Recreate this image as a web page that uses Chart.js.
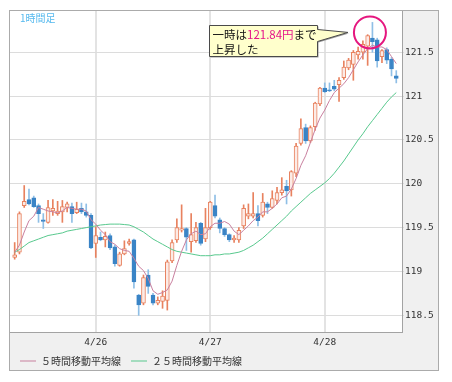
<!DOCTYPE html>
<html><head><meta charset="utf-8">
<script src="https://cdn.jsdelivr.net/npm/chart.js@4"></script>
<style>html,body{margin:0;padding:0;background:#fff}canvas{display:block}</style>
</head><body>
<canvas id="c" width="452" height="382"></canvas>
<script>
// ---- data (USD/JPY 1-hour candles) ----
const opens = [119.16,119.22,119.75,119.82,119.84,119.75,119.59,119.56,119.69,119.66,
  119.68,119.73,119.74,119.67,119.72,119.68,119.64,119.32,119.39,119.36,
  119.41,119.28,119.07,119.20,119.32,119.36,118.73,118.64,118.96,118.73,
  118.64,118.66,118.67,119.12,119.36,119.47,119.49,119.34,119.35,119.55,
  119.37,119.50,119.75,119.59,119.49,119.42,119.36,119.36,119.52,119.63,
  119.63,119.66,119.64,119.77,119.73,119.81,119.90,119.97,119.93,120.12,
  120.46,120.64,120.49,120.65,120.91,121.09,121.07,121.11,121.13,121.21,
  121.32,121.36,121.47,121.50,121.57,121.66,121.64,121.45,121.53,121.42,
  121.23];
const highs = [119.33,119.68,119.98,119.94,119.86,119.77,119.66,119.81,119.82,119.80,
  119.81,119.79,119.78,119.79,119.78,119.77,119.66,119.51,119.45,119.45,
  119.43,119.30,119.22,119.35,119.37,119.37,118.74,118.96,119.02,118.75,
  118.71,118.78,119.13,119.36,119.60,119.76,119.50,119.66,119.56,119.56,
  119.72,119.80,119.87,119.61,119.50,119.43,119.41,119.50,119.76,119.77,
  119.90,119.75,119.89,119.79,119.92,119.96,120.07,120.04,120.15,120.46,
  120.74,120.68,120.66,120.93,121.10,121.15,121.15,121.18,121.21,121.40,
  121.43,121.52,121.56,121.63,121.70,121.84,121.66,121.53,121.55,121.44,
  121.29];
const lows = [119.14,119.20,119.73,119.76,119.73,119.56,119.49,119.55,119.64,119.64,
  119.56,119.68,119.56,119.66,119.66,119.62,119.26,119.16,119.35,119.28,
  119.25,119.06,119.06,119.19,119.30,118.81,118.50,118.62,118.75,118.62,
  118.62,118.58,118.56,119.10,119.33,119.45,119.24,119.22,119.33,119.30,
  119.34,119.48,119.61,119.44,119.40,119.34,119.33,119.33,119.49,119.60,
  119.61,119.52,119.62,119.66,119.72,119.77,119.87,119.77,119.86,120.08,
  120.44,120.46,120.47,120.61,120.89,121.04,121.05,121.06,120.94,121.19,
  121.30,121.18,121.42,121.42,121.35,121.50,121.33,121.38,121.37,121.23,
  121.15];
const closes = [119.19,119.66,119.80,119.77,119.74,119.66,119.57,119.73,119.72,119.69,
  119.74,119.77,119.66,119.71,119.68,119.64,119.27,119.41,119.36,119.40,
  119.27,119.09,119.20,119.26,119.34,118.88,118.62,118.93,118.83,118.64,
  118.67,118.72,119.11,119.33,119.50,119.49,119.39,119.42,119.50,119.32,
  119.50,119.79,119.63,119.49,119.42,119.36,119.38,119.47,119.72,119.66,
  119.66,119.58,119.79,119.73,119.83,119.90,119.93,119.92,120.14,120.43,
  120.63,120.49,120.64,120.92,121.09,121.05,121.06,121.08,121.18,121.33,
  121.41,121.50,121.51,121.59,121.69,121.62,121.40,121.52,121.41,121.31,
  121.20];
const ma5 = [119.22,119.30,119.45,119.58,119.63,119.73,119.71,119.69,119.68,119.67,
  119.69,119.73,119.72,119.71,119.71,119.69,119.59,119.54,119.47,119.42,
  119.34,119.31,119.26,119.24,119.23,119.15,119.06,119.01,118.92,118.78,
  118.74,118.76,118.79,118.89,119.07,119.23,119.36,119.43,119.46,119.42,
  119.43,119.51,119.55,119.55,119.57,119.54,119.46,119.42,119.47,119.52,
  119.58,119.62,119.68,119.68,119.72,119.77,119.84,119.86,119.94,120.06,
  120.21,120.32,120.47,120.62,120.75,120.84,120.95,121.04,121.09,121.14,
  121.21,121.30,121.39,121.47,121.54,121.58,121.56,121.56,121.53,121.45,
  121.37];
const ma25 = [119.22,119.25,119.29,119.33,119.35,119.37,119.39,119.41,119.42,119.43,
  119.44,119.46,119.47,119.48,119.49,119.50,119.51,119.52,119.53,119.535,
  119.54,119.54,119.54,119.535,119.53,119.51,119.48,119.45,119.41,119.37,
  119.34,119.31,119.28,119.25,119.23,119.22,119.21,119.20,119.19,119.18,
  119.18,119.18,119.19,119.19,119.20,119.20,119.21,119.22,119.24,119.27,
  119.30,119.34,119.38,119.43,119.48,119.53,119.58,119.63,119.69,119.74,
  119.79,119.84,119.89,119.93,119.97,120.01,120.06,120.12,120.19,120.26,
  120.34,120.42,120.50,120.57,120.65,120.72,120.79,120.86,120.93,120.99,
  121.04];
const dayLabels = ['4/26', '4/27', '4/28'];
const dayStartIndex = [17, 41, 65];
const yTicks = [118.5, 119, 119.5, 120, 120.5, 121, 121.5];
const seriesNames = ['５時間移動平均線', '２５時間移動平均線'];
const timeframeLabel = '1時間足';

// ---- colours ----
const UP_LINE = '#e8825f', UP_FILL = '#fcebe6', DOWN_FILL = '#3a84c6', DOWN_WICK = '#8fbfe6';
const MA5_COLOR = '#c9809f', MA25_COLOR = '#58c98e';
const isUp = i => closes[i] >= opens[i];

const bodies = opens.map((o, i) => ({x: i, y: [o, closes[i]]}));
const wicks = lows.map((l, i) => ({x: i, y: [l, highs[i]]}));
const ma5Pts = ma5.map((v, i) => ({x: i, y: v}));
const ma25Pts = ma25.map((v, i) => ({x: i, y: v}));

const peakValue = Math.max(...highs);
const peakIndex = highs.indexOf(peakValue);

const backgroundPlugin = {
  id: 'bg',
  beforeDraw(chart) {
    const {ctx, chartArea: a} = chart;
    const p = chart.options.layout.padding;
    const L = p.left - 1, T = p.top - 1, R = chart.width - p.right, B = chart.height - p.bottom;
    ctx.save();
    ctx.fillStyle = '#f0f0f0';
    ctx.fillRect(L, T, R - L, B - T);
    ctx.fillStyle = '#ffffff';
    ctx.fillRect(a.left, a.top, a.right - a.left, a.bottom - a.top);
    ctx.strokeStyle = '#ababab';
    ctx.lineWidth = 1;
    ctx.strokeRect(L + 0.5, T + 0.5, R - L - 1, B - T);
    ctx.restore();
  }
};

const notePlugin = {
  id: 'note',
  afterDraw(chart) {
    const {ctx, chartArea: a, scales} = chart;
    ctx.save();
    // timeframe label
    ctx.font = '10px "Noto Sans CJK JP", sans-serif';
    ctx.fillStyle = '#55b9ee';
    ctx.textBaseline = 'middle';
    ctx.textAlign = 'left';
    ctx.fillText(timeframeLabel, a.left + 10, a.top + 7);

    // circle around the peak
    const cx = scales.x.getPixelForValue(peakIndex) - 2.5;
    const cy = scales.y.getPixelForValue(peakValue) + 10;
    ctx.beginPath();
    ctx.arc(cx, cy, 16, 0, Math.PI * 2);
    ctx.strokeStyle = '#e5177f';
    ctx.lineWidth = 2;
    ctx.stroke();

    // callout
    const bx1 = Math.round(cx - 161) + 0.5, bx2 = Math.round(cx - 53) + 0.5;
    const by1 = Math.round(cy - 7) + 0.5, by2 = Math.round(cy + 24) + 0.5;
    const tipX = cx - 22, tipY = cy;
    const path = (dx, dy) => {
      ctx.beginPath();
      ctx.moveTo(bx1 + dx, by1 + dy);
      ctx.lineTo(bx2 + dx, by1 + dy);
      ctx.lineTo(bx2 + dx, by1 + 4 + dy);
      ctx.lineTo(tipX + dx, tipY + dy);
      ctx.lineTo(bx2 + dx, by1 + 16 + dy);
      ctx.lineTo(bx2 + dx, by2 + dy);
      ctx.lineTo(bx1 + dx, by2 + dy);
      ctx.closePath();
    };
    path(1, 1);
    ctx.fillStyle = '#9a9a9a';
    ctx.fill();
    path(0, 0);
    ctx.fillStyle = '#ffffcc';
    ctx.fill();
    ctx.strokeStyle = '#4a4a4a';
    ctx.lineWidth = 1;
    ctx.stroke();

    ctx.font = '11.5px "Noto Sans CJK JP", sans-serif';
    ctx.textBaseline = 'middle';
    let tx = bx1 + 3;
    const parts = [['一時は', '#111'], [peakValue.toFixed(2) + '円', '#e5178a'], ['まで', '#111']];
    for (const [t, c] of parts) {
      ctx.fillStyle = c;
      ctx.fillText(t, tx, by1 + 9);
      tx += ctx.measureText(t).width;
    }
    ctx.fillStyle = '#111';
    ctx.fillText('上昇した', bx1 + 3, by1 + 24);
    ctx.restore();
  }
};

new Chart(document.getElementById('c'), {
  type: 'line',
  data: {
    datasets: [
      {type: 'line', label: seriesNames[0], data: ma5Pts, borderColor: MA5_COLOR, backgroundColor: MA5_COLOR,
       borderWidth: 1, pointRadius: 0, tension: 0, order: 0},
      {type: 'line', label: seriesNames[1], data: ma25Pts, borderColor: MA25_COLOR, backgroundColor: MA25_COLOR,
       borderWidth: 1, pointRadius: 0, tension: 0, order: 1},
      {type: 'bar', label: 'body', data: bodies, grouped: false, barThickness: 4, minBarLength: 1,
       backgroundColor: c => isUp(c.dataIndex) ? UP_FILL : DOWN_FILL,
       borderColor: c => isUp(c.dataIndex) ? UP_LINE : DOWN_FILL,
       borderWidth: 1, borderSkipped: false, order: 2},
      {type: 'bar', label: 'wick', data: wicks, grouped: false, barThickness: 1,
       backgroundColor: c => isUp(c.dataIndex) ? UP_LINE : DOWN_WICK,
       borderWidth: 0, order: 3}
    ]
  },
  options: {
    responsive: false,
    animation: false,
    devicePixelRatio: 1,
    layout: {padding: {left: 10, top: 11, right: 13, bottom: 12}, autoPadding: false},
    scales: {
      x: {
        type: 'linear', min: -0.98, max: 81.2, offset: false,
        grid: {color: '#e3e3e3', lineWidth: 2, drawTicks: false, offset: false},
        border: {display: true, color: '#a3a3a3'},
        afterBuildTicks: s => { s.ticks = dayStartIndex.map(v => ({value: v})); },
        afterFit: s => { s.height = 14; },
        ticks: {
          padding: 5, color: '#333', maxRotation: 0, autoSkip: false,
          font: {family: '"DejaVu Sans Mono", monospace', size: 9.5},
          callback: v => dayLabels[dayStartIndex.indexOf(v)]
        }
      },
      y: {
        type: 'linear', position: 'right', min: 118.31, max: 121.97, beginAtZero: false,
        grid: {color: '#dcdcdc', lineWidth: 1, tickLength: 2},
        border: {display: true, color: '#a3a3a3'},
        afterBuildTicks: s => { s.ticks = yTicks.map(v => ({value: v})); },
        afterFit: s => { s.width = 37; },
        ticks: {
          padding: 1, color: '#333',
          font: {family: '"DejaVu Sans Mono", monospace', size: 9.5},
          callback: v => String(v)
        }
      }
    },
    plugins: {
      tooltip: {enabled: false},
      legend: {
        position: 'bottom', align: 'start', maxHeight: 24,
        labels: {
          boxWidth: 16, boxHeight: 1, padding: 10, color: '#333',
          font: {family: '"Noto Sans CJK JP", sans-serif', size: 10},
          generateLabels: chart => chart.data.datasets.slice(0, 2).map((ds, i) => ({
            text: ds.label, fillStyle: ds.borderColor, strokeStyle: ds.borderColor,
            lineWidth: 0, hidden: false, datasetIndex: i, fontColor: '#333'
          }))
        }
      }
    }
  },
  plugins: [backgroundPlugin, notePlugin]
});
</script>
</body></html>
